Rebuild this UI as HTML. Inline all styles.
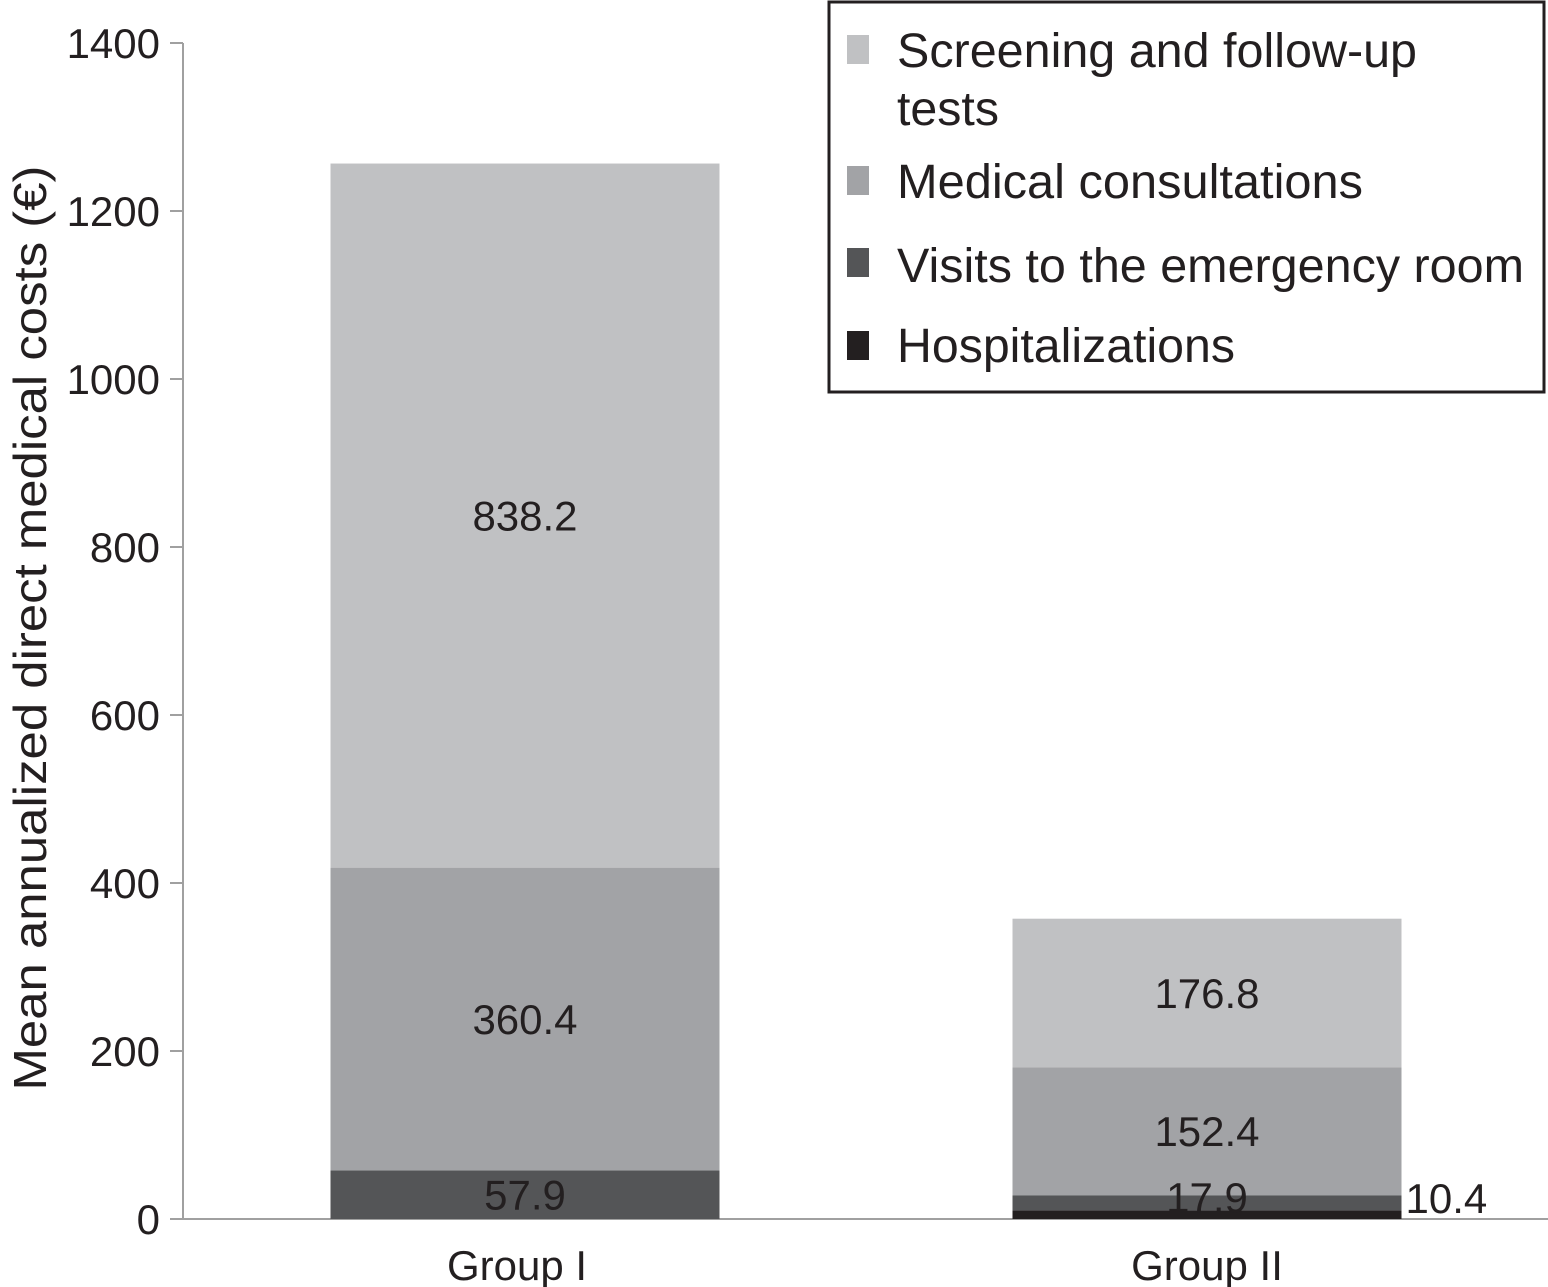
<!DOCTYPE html>
<html><head><meta charset="utf-8"><style>
html,body{margin:0;padding:0;background:#fff}
svg{display:block}
text{font-family:"Liberation Sans Narrow","Liberation Sans",sans-serif;fill:#231f20}
</style></head><body>
<svg id="chart" width="1548" height="1287" viewBox="0 0 1548 1287">
<g id="axes"></g><g id="bars"></g><g id="labels"></g>
<text transform="translate(46,628) rotate(-90)" text-anchor="middle" font-size="46" textLength="925" lengthAdjust="spacingAndGlyphs">Mean annualized direct medical costs (€)</text>
<g>
<rect x="829" y="2" width="715" height="390" fill="#fff" stroke="#231f20" stroke-width="3"/>
</g>
<g id="legend-items"></g>
</svg>
<script>
const categories = ["Group I", "Group II"];
const seriesNames = ["Hospitalizations", "Visits to the emergency room", "Medical consultations", "Screening and follow-up tests"];
const hospitalizations = [0, 10.4];
const emergencyVisits = [57.9, 17.9];
const consultations = [360.4, 152.4];
const screening = [838.2, 176.8];
const yTicks = [0, 200, 400, 600, 800, 1000, 1200, 1400];
const colors = ["#231f20", "#545557", "#a2a3a6", "#c0c1c3"];

const NS = "http://www.w3.org/2000/svg";
const y0 = 1219, yTop = 43, yMax = 1400;
const yScale = v => y0 - (v / yMax) * (y0 - yTop);
const xCenter = i => 525 + i * 682;
const barW = 389;
function mk(tag, attrs, parent, txt) {
  const e = document.createElementNS(NS, tag);
  for (const k in attrs) e.setAttribute(k, attrs[k]);
  if (txt !== undefined) e.textContent = txt;
  parent.appendChild(e);
  return e;
}
const axes = document.getElementById('axes');
const bars = document.getElementById('bars');
const labels = document.getElementById('labels');
let el = mk('line', {x1:183, y1:yTop, x2:183, y2:y0, stroke:'#a0a0a0', 'stroke-width':2}, axes);


el = mk('line', {x1:170, y1:y0, x2:1548, y2:y0, stroke:'#a0a0a0', 'stroke-width':2}, axes);


yTicks.forEach(t => {
  const y = yScale(t);
  const tk = mk('line', {x1:170, y1:y, x2:183, y2:y, stroke:'#a0a0a0', 'stroke-width':2}, axes);
  
  
  const lb = mk('text', {x:160, y:y + 15, 'text-anchor':'end', 'font-size':42}, axes, String(t));
  
  
});
const series = [hospitalizations, emergencyVisits, consultations, screening];
categories.forEach((c, i) => {
  let base = 0;
  const cx = xCenter(i);
  series.forEach((s, k) => {
    const v = s[i];
    const yA = yScale(base + v), yB = yScale(base);
    if (v > 0) {
      const r = mk('rect', {x:cx - barW/2, y:yA, width:barW, height:yB - yA, fill:colors[k]}, bars);
      
      
      let tx = cx, anchor = 'middle', ty = (yA + yB) / 2 + 15;
      if (k === 0) { tx = cx + barW/2 + 4; anchor = 'start'; ty = y0 - 6; }
      if (k === 1) { ty = Math.min(ty, y0 - 7); }
      const t = mk('text', {x:tx, y:ty, 'text-anchor':anchor, 'font-size':42}, labels, v.toFixed(1));
      
      
    }
    base += v;
  });
  const g = mk('text', {x:cx - 8 + i * 8, y:1280, 'text-anchor':'middle', 'font-size':42}, labels, c);
  
  
});
const li = document.getElementById('legend-items');
const legendRows = [
  {k:3, y:35, lines:[["Screening and follow-up", 67, 520], ["tests", 125, 102]]},
  {k:2, y:166, lines:[["Medical consultations", 198, 466]]},
  {k:1, y:248, lines:[["Visits to the emergency room", 282, 627]]},
  {k:0, y:331, lines:[["Hospitalizations", 362, 338]]}
];
legendRows.forEach(r => {
  const s = mk('rect', {x:847, y:r.y, width:22, height:29, fill:colors[r.k]}, li);
  
  
  r.lines.forEach(l => {
    const t = mk('text', {x:897, y:l[1], 'font-size':48, textLength:l[2], lengthAdjust:'spacingAndGlyphs'}, li, l[0]);
    
    
  });
});
</script>
</body></html>
